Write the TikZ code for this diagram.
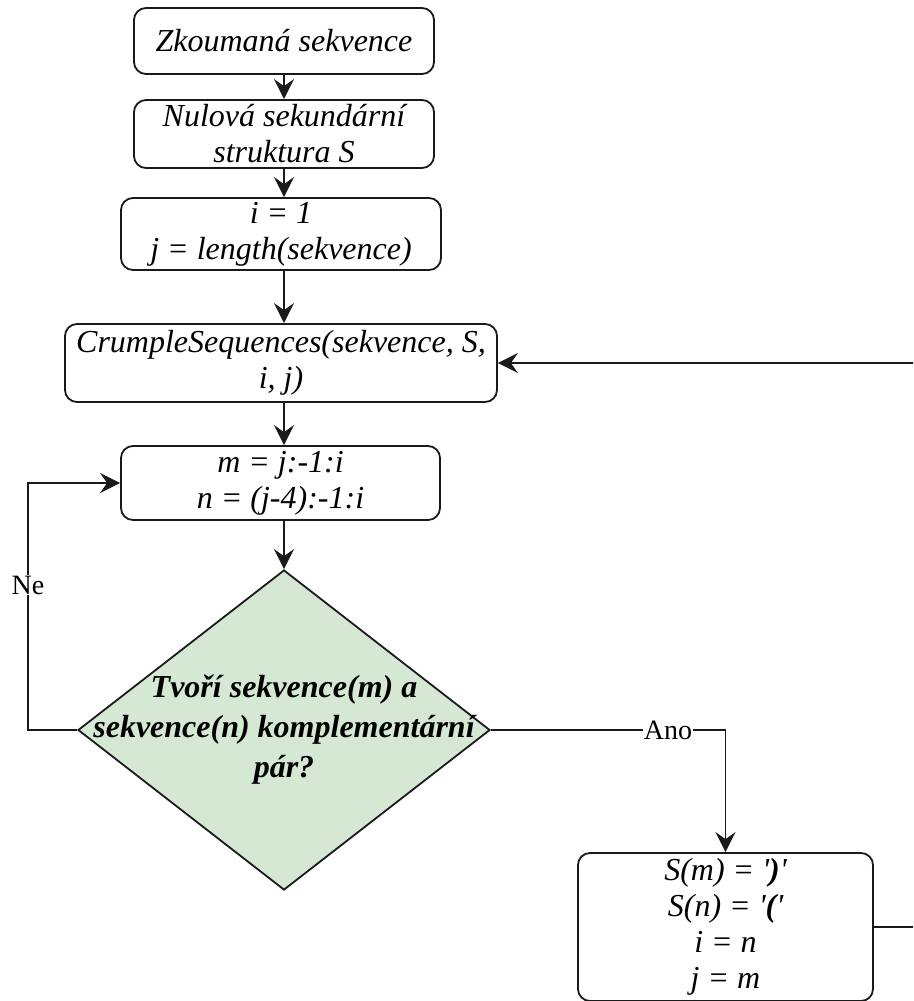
\documentclass[tikz,border=0pt]{standalone}
\usepackage{fontspec}
\setmainfont{Liberation Serif}
\usetikzlibrary{shapes.geometric,arrows.meta}
\definecolor{dfill}{HTML}{D5E8D4}
\definecolor{lc}{HTML}{1A1A1A}
\begin{document}
\begin{tikzpicture}[x=1pt,y=-1pt,
  box/.style={draw=lc, line width=1.8pt, rounded corners=12pt, align=center, inner sep=0pt, font=\fontsize{32}{36}\selectfont\itshape},
  conn/.style={draw=lc, line width=1.8pt},
  arr/.style={conn, -{Stealth[length=20pt,width=20pt,inset=7pt]}},
  lbl/.style={fill=white, inner sep=1pt, font=\fontsize{28}{32}\selectfont}]
\useasboundingbox (0,0) rectangle (913,1001);
\clip (0,0) rectangle (913,1001);
\node[box, minimum width=300pt, minimum height=66pt] (b1) at (284,41) {Zkoumaná sekvence};
\node[box, minimum width=300pt, minimum height=68pt] (b2) at (284,134) {Nulová sekundární\\struktura S};
\node[box, minimum width=320pt, minimum height=72pt] (b3) at (281,234) {i = 1\\j = length(sekvence)};
\node[box, minimum width=432pt, minimum height=78pt] (b4) at (281,363) {CrumpleSequences(sekvence, S,\\i, j)};
\node[box, minimum width=319pt, minimum height=74pt] (b5) at (280.5,483) {m = j:-1:i\\n = (j-4):-1:i};
\node[diamond, draw=lc, fill=dfill, line width=1.8pt, minimum width=412pt, minimum height=320pt, inner sep=0pt] (d) at (284,730) {};
\node[font=\fontsize{32}{40}\selectfont\bfseries\itshape, align=center, inner sep=0pt] (dt) at (d.center) {Tvoří sekvence(m) a\\sekvence(n) komplementární\\pár?};
\node[box, minimum width=295pt, minimum height=148pt] (b6) at (725.5,927) {S(m) = \textquotesingle\textbf{)}\textquotesingle\\S(n) = \textquotesingle\textbf{(}\textquotesingle\\i = n\\j = m};
\coordinate (ne) at (28,730);
\coordinate (rt) at (945,0);
\draw[arr] (b1.south) -- (b2.north);
\draw[arr] (b2.south) -- (b3.north -| b2.south);
\draw[arr] (b3.south -| b1.south) -- (b4.north -| b1.south);
\draw[arr] (b4.south -| b1.south) -- (b5.north -| b1.south);
\draw[arr] (b5.south -| d.north) -- (d.north);
\draw[arr] (d.west) -- (ne) |- (b5.west);
\node[lbl] (lne) at (28,585) {Ne};
\draw[arr] (d.east) -| (b6.north);
\node[lbl] (lano) at (668,730) {Ano};
\draw[arr] (b6.east) -- (b6.east -| rt) -- (b4.east -| rt) -- (b4.east);
\end{tikzpicture}
\end{document}
